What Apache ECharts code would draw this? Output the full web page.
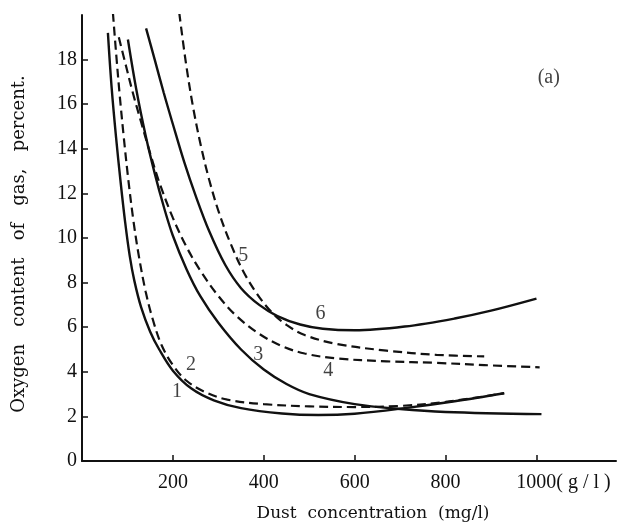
<!DOCTYPE html>
<html>
<head>
<meta charset="utf-8">
<script src="https://cdn.jsdelivr.net/npm/echarts@6/dist/echarts.min.js"></script>
<style>
  html, body { margin: 0; padding: 0; background: #fff; }
  #chart { width: 619px; height: 527px; }
</style>
</head>
<body>
<div id="chart"></div>
<script>
// curves: [dust concentration, oxygen %]
const curve1 = [[57, 19.2], [65, 16.8], [75, 14.5], [85, 12.5], [95, 10.7], [105, 9.2], [115, 8.1], [130, 6.9],
  [150, 5.8], [170, 5.0], [200, 4.05], [240, 3.26], [290, 2.72], [350, 2.37], [440, 2.13], [520, 2.06],
  [600, 2.12], [710, 2.37], [820, 2.68], [929, 3.04]];
const curve2 = [[68, 20.1], [75, 18.3], [83, 16.4], [92, 14.5], [102, 12.6], [113, 10.8], [125, 9.2], [140, 7.6],
  [155, 6.4], [175, 5.2], [200, 4.3], [230, 3.6], [270, 3.1], [320, 2.75], [400, 2.55], [500, 2.45],
  [600, 2.42], [700, 2.47], [800, 2.65], [929, 3.04]];
const curve3 = [[101, 18.9], [120, 16.6], [140, 14.6], [160, 12.9], [180, 11.4], [200, 10.1], [230, 8.6],
  [260, 7.4], [300, 6.2], [350, 5.0], [400, 4.1], [450, 3.45], [500, 3.0], [600, 2.55], [700, 2.33],
  [800, 2.2], [1011, 2.1]];
const curve4 = [[81, 19.0], [97, 17.7], [112, 16.5], [130, 15.2], [150, 13.8], [170, 12.5], [200, 10.9],
  [230, 9.6], [260, 8.55], [300, 7.4], [340, 6.5], [390, 5.7], [440, 5.15], [490, 4.82], [560, 4.6],
  [670, 4.47], [780, 4.4], [885, 4.3], [1007, 4.2]];
const curve5 = [[214, 20.1], [229, 17.8], [245, 15.8], [262, 14.1], [280, 12.6], [302, 11.1], [328, 9.7],
  [355, 8.5], [385, 7.5], [416, 6.7], [450, 6.1], [490, 5.65], [560, 5.25], [670, 4.95], [780, 4.76], [885, 4.69]];
const curve6 = [[141, 19.4], [160, 18.0], [180, 16.5], [200, 15.1], [225, 13.4], [250, 11.9], [280, 10.3],
  [315, 8.8], [350, 7.75], [390, 7.0], [430, 6.5], [480, 6.12], [530, 5.93], [600, 5.86], [710, 6.03],
  [820, 6.39], [900, 6.74], [1000, 7.28]];

// curve numbers and panel tag, placed in data coordinates
const notes = [[209, 3.1, '1'], [240, 4.3, '2'], [388, 4.75, '3'], [542, 4.05, '4'], [355, 9.2, '5'], [525, 6.6, '6'], [1027, 17.2, '(a)']];

const xTicks = [200, 400, 600, 800, 1000];
const yTicks = [0, 2, 4, 6, 8, 10, 12, 14, 16, 18];

const font = 'Liberation Serif';
const titleFont = 'DejaVu Serif';
const ink = '#111';

const myChart = echarts.init(document.getElementById('chart'));

function curve(data, dashed) {
  return {
    type: 'line',
    data: data,
    smooth: 0.35,
    symbol: 'none',
    silent: true,
    lineStyle: { color: ink, width: dashed ? 2.2 : 2.4, type: dashed ? [9, 5] : 'solid' }
  };
}

const option = {
  animation: false,
  backgroundColor: '#fff',
  grid: { left: 82, right: 3, top: 15, bottom: 64 },
  xAxis: {
    type: 'value',
    min: 0,
    max: 1175,
    name: 'Dust  concentration  (mg/l)',
    nameLocation: 'middle',
    nameGap: 44,
    nameTextStyle: { fontFamily: titleFont, fontSize: 17, color: ink, padding: [0, 0, 0, 48] },
    splitLine: { show: false },
    axisLine: { lineStyle: { color: ink, width: 2 } },
    axisTick: { inside: true, length: 6, customValues: xTicks, lineStyle: { color: ink, width: 1.5 } },
    axisLabel: {
      customValues: xTicks,
      margin: 12,
      fontFamily: font,
      fontSize: 20,
      color: ink,
      formatter: v => v === 1000 ? '{p|}1000{u|( g / l )}' : String(v),
      rich: {
        p: { width: 54 },
        u: { fontFamily: font, fontSize: 20, color: ink }
      }
    }
  },
  yAxis: {
    type: 'value',
    min: 0,
    max: 20,
    name: 'Oxygen   content   of   gas,   percent.',
    nameLocation: 'middle',
    nameGap: 54,
    nameRotate: 90,
    nameTextStyle: { fontFamily: titleFont, fontSize: 18, color: ink, padding: [0, 12, 0, 0] },
    splitLine: { show: false },
    axisLine: { lineStyle: { color: ink, width: 2 } },
    axisTick: { inside: true, length: 6, customValues: yTicks, lineStyle: { color: ink, width: 1.5 } },
    axisLabel: { customValues: yTicks, margin: 5, fontFamily: font, fontSize: 20, color: ink }
  },
  series: [
    curve(curve1, false),
    curve(curve2, true),
    curve(curve3, false),
    curve(curve4, true),
    curve(curve5, true),
    curve(curve6, false),
    {
      type: 'scatter',
      data: notes,
      symbolSize: 0,
      silent: true,
      label: {
        show: true,
        position: 'inside',
        formatter: p => p.value[2],
        fontFamily: font,
        fontSize: 20,
        color: ink
      }
    }
  ]
};

myChart.setOption(option);
window.addEventListener('resize', function () {
  myChart.resize();
});
</script>
</body>
</html>
